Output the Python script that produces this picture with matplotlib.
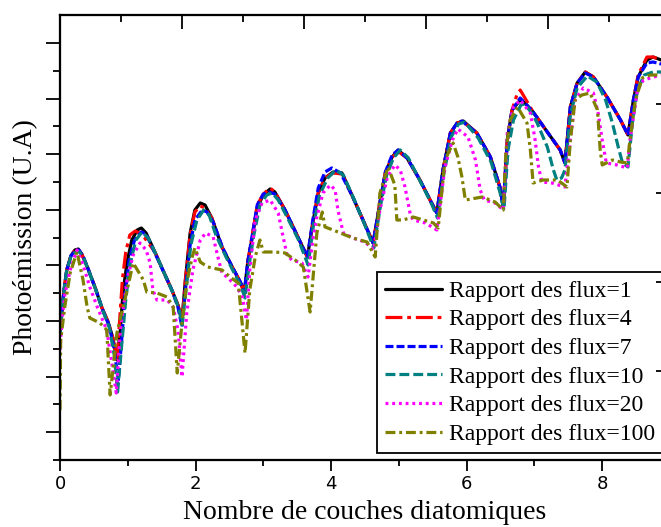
import matplotlib
matplotlib.use("Agg")
import matplotlib.pyplot as plt
from matplotlib.ticker import MultipleLocator

# ---------------- data (x: number of diatomic layers, y: photoemission, arbitrary units)
x_f1 = [0.00,0.03,0.06,0.10,0.16,0.22,0.27,0.32,0.41,0.52,0.62,0.71,0.78,0.84,
        0.89,0.93,0.99,1.06,1.14,1.20,1.27,1.40,1.55,1.65,1.74,1.80,
        1.85,1.92,1.99,2.07,2.14,2.24,2.39,2.54,2.66,2.72,
        2.77,2.83,2.91,3.00,3.10,3.17,3.32,3.51,3.65,
        3.73,3.81,3.91,4.03,4.16,4.32,4.47,4.62,
        4.72,4.80,4.90,4.99,5.12,5.31,5.46,5.56,
        5.65,5.76,5.86,5.95,6.15,6.35,6.49,6.54,
        6.60,6.67,6.79,6.86,6.98,7.19,7.38,7.45,
        7.53,7.63,7.75,7.87,8.07,8.27,8.38,
        8.46,8.53,8.66,8.75,8.87]
y_f1 = [125,150,170,190,204,210,211,206,192,172,152,138,122,100,
        130,168,198,220,230,232,227,208,185,170,155,140,
        180,227,250,257,255,242,213,193,178,168,
        198,220,253,265,271,268,250,223,203,
        237,267,282,288,287,263,240,217,
        257,287,303,310,302,280,260,247,
        290,327,337,339,327,303,273,253,
        320,350,360,357,348,328,310,297,
        353,377,388,383,363,340,325,
        360,383,400,403,400]

x_f4 = [0.00,0.03,0.06,0.10,0.16,0.22,0.27,0.32,0.41,0.52,0.62,0.71,0.78,0.84,
        0.88,0.92,0.97,1.03,1.11,1.17,1.25,1.40,1.55,1.65,1.74,1.80,
        1.85,1.92,1.99,2.07,2.14,2.24,2.39,2.54,2.66,2.72,
        2.77,2.83,2.91,3.00,3.10,3.17,3.32,3.51,3.65,
        3.73,3.81,3.91,4.03,4.16,4.32,4.47,4.62,
        4.72,4.80,4.90,5.00,5.12,5.31,5.46,5.56,
        5.65,5.76,5.86,5.95,6.15,6.35,6.49,6.54,
        6.60,6.67,6.74,6.79,6.86,6.98,7.19,7.38,7.45,
        7.53,7.63,7.75,7.87,8.07,8.27,8.38,
        8.46,8.53,8.66,8.75,8.87]
y_f4 = [125,150,170,190,204,210,210,206,192,172,152,138,122,98,
        140,180,208,225,229,227,222,208,185,170,155,138,
        180,225,248,254,252,242,213,193,178,166,
        198,222,255,266,272,268,250,223,203,
        237,267,282,287,286,263,240,217,
        257,287,303,308,302,280,260,247,
        290,327,337,338,327,303,273,253,
        320,350,365,370,362,348,328,310,297,
        353,377,388,383,363,340,325,
        360,385,403,403,400]

x_f7 = [0.00,0.03,0.06,0.10,0.16,0.22,0.28,0.34,0.42,0.53,0.63,0.72,0.79,0.86,
        0.91,0.96,1.02,1.10,1.20,1.27,1.40,1.55,1.65,1.74,1.80,
        1.85,1.92,1.99,2.10,2.17,2.26,2.40,2.55,2.66,2.72,
        2.77,2.83,2.91,3.00,3.08,3.17,3.32,3.51,3.65,
        3.73,3.81,3.91,4.01,4.14,4.32,4.47,4.62,
        4.72,4.80,4.90,4.99,5.12,5.31,5.46,5.56,
        5.65,5.76,5.86,5.93,6.15,6.35,6.49,6.54,
        6.60,6.67,6.79,6.86,6.98,7.19,7.38,7.45,
        7.53,7.63,7.75,7.87,8.07,8.27,8.38,
        8.46,8.53,8.66,8.75,8.87]
y_f7 = [125,150,170,190,204,209,210,204,190,170,150,135,115,80,
        120,165,200,220,228,226,207,185,170,153,133,
        170,215,240,250,248,238,212,192,178,168,
        198,222,255,266,268,266,250,223,203,
        240,272,288,292,287,263,240,217,
        257,288,305,310,302,280,260,247,
        290,327,337,339,327,303,273,253,
        320,350,362,357,348,328,310,297,
        353,377,387,383,363,340,325,
        360,383,397,398,396]

x_f10 = [0.00,0.03,0.06,0.10,0.16,0.23,0.29,0.35,0.43,0.54,0.64,0.73,0.80,0.85,
         0.91,0.97,1.03,1.12,1.21,1.30,1.42,1.57,1.68,1.76,1.80,
         1.86,1.93,2.02,2.12,2.20,2.30,2.45,2.57,2.67,2.73,
         2.79,2.86,2.95,3.05,3.13,3.22,3.35,3.52,3.66,
         3.74,3.83,3.95,4.07,4.18,4.33,4.48,4.63,
         4.73,4.82,4.92,5.02,5.14,5.32,5.47,5.57,
         5.66,5.77,5.88,5.97,6.17,6.36,6.49,6.55,
         6.61,6.69,6.80,6.86,6.98,7.04,7.19,7.28,7.33,7.40,7.45,
         7.53,7.63,7.78,7.92,8.05,8.15,8.24,8.30,8.38,
         8.45,8.52,8.62,8.75,8.87]
y_f10 = [125,150,170,190,203,208,208,202,188,168,148,132,105,68,
         115,160,195,220,228,222,205,182,165,150,135,
         170,215,240,250,245,225,203,187,174,162,
         195,225,255,265,267,260,243,220,195,
         235,265,282,290,285,262,238,212,
         255,285,302,310,302,278,258,242,
         285,323,336,338,322,298,268,250,
         310,340,355,356,345,337,313,290,280,282,290,
         345,372,384,378,360,337,312,297,293,
         340,370,385,388,388]

x_f20 = [0.00,0.03,0.07,0.15,0.25,0.34,0.44,0.55,0.69,0.78,0.83,
         0.89,0.99,1.08,1.18,1.27,1.33,1.37,1.43,1.58,1.67,1.74,1.80,
         1.87,1.96,2.07,2.15,2.26,2.33,2.39,2.48,2.61,2.69,2.75,
         2.80,2.88,2.98,3.10,3.22,3.28,3.35,3.42,3.57,3.66,
         3.73,3.79,3.88,3.99,4.06,4.10,4.18,4.32,4.50,4.63,
         4.72,4.83,4.94,5.02,5.09,5.17,5.21,5.39,5.56,
         5.68,5.79,5.87,6.02,6.13,6.20,6.26,6.42,6.54,
         6.60,6.69,6.79,6.94,7.01,7.06,7.11,7.26,7.45,
         7.53,7.60,7.72,7.87,7.94,8.00,8.06,8.22,8.37,
         8.41,8.52,8.61,8.86]
y_f20 = [110,140,165,190,210,195,173,153,130,90,67,
         130,180,205,217,210,197,170,160,160,153,130,83,
         147,190,220,227,223,203,187,182,173,163,140,
         190,240,257,260,247,227,205,200,197,183,
         220,243,267,275,270,250,227,222,218,210,
         250,283,295,290,273,245,240,237,230,
         293,320,331,323,300,270,260,257,250,
         327,353,360,347,320,293,278,277,273,
         320,360,372,367,347,320,297,295,292,
         320,370,380,385]

x_f100 = [0.00,0.01,0.07,0.15,0.25,0.34,0.40,0.44,0.59,0.69,0.74,
          0.84,0.99,1.08,1.23,1.28,1.43,1.58,1.67,1.73,
          1.80,1.87,1.95,1.99,2.07,2.18,2.39,2.51,2.63,2.73,
          2.80,2.88,2.95,3.00,3.17,3.32,3.47,3.59,3.69,
          3.79,3.87,3.91,4.03,4.10,4.32,4.53,4.65,
          4.72,4.84,4.94,4.97,5.06,5.21,5.36,5.51,5.58,
          5.68,5.80,5.87,5.93,5.98,6.23,6.42,6.54,
          6.58,6.64,6.75,6.89,6.94,6.98,7.13,7.34,7.44,
          7.48,7.53,7.60,7.70,7.82,7.93,7.97,8.00,8.15,8.27,8.37,
          8.41,8.49,8.59,8.71,8.86]
y_f100 = [50,120,153,187,208,180,153,142,137,130,65,
          127,170,197,180,168,167,163,153,87,
          137,177,203,212,198,193,190,183,177,107,
          170,203,220,208,208,207,200,193,148,
          227,248,233,230,228,222,218,203,
          267,293,275,240,240,243,240,237,232,
          300,317,303,283,260,263,258,250,
          310,340,353,337,310,277,280,280,275,
          273,320,360,365,367,350,310,295,300,298,297,
          320,360,382,385,385]

labels = ["Rapport des flux=1", "Rapport des flux=4", "Rapport des flux=7",
          "Rapport des flux=10", "Rapport des flux=20", "Rapport des flux=100"]

series = [(x_f1, y_f1), (x_f4, y_f4), (x_f7, y_f7),
          (x_f10, y_f10), (x_f20, y_f20), (x_f100, y_f100)]
colors = ["#000000", "#ff0000", "#0000ff", "#008080", "#ff00ff", "#808000"]
styles = ["-", (0, (5.3, 1.5, 1.2, 1.5)), (0, (2.5, 0.95)), (0, (3.1, 1.25)),
          (0, (0.9, 1.2)), (0, (3.1, 1.2, 0.9, 1.2))]

# ---------------- figure
fig = plt.figure(figsize=(6.61, 5.27), dpi=100)
W, H = 661, 527
ax = fig.add_axes([60 / W, 1 - 460 / H, 610 / W, 445 / H])

for (xs, ys), c, ls, lab in zip(series, colors, styles, labels):
    ax.plot(xs, ys, color=c, linestyle=ls, lw=2.3, label=lab,
            dash_capstyle="butt", solid_capstyle="round",
            solid_joinstyle="round", dash_joinstyle="round")

ax.set_xlim(0, 9.0)
ax.set_ylim(0, 445)

ax.xaxis.set_major_locator(MultipleLocator(2))
ax.xaxis.set_minor_locator(MultipleLocator(1))
ax.set_yticks([27.8 + 55.6 * k for k in range(8)])
ax.set_yticks([55.6 * k for k in range(8)], minor=True)
ax.set_yticklabels([])

ax.tick_params(axis="x", which="major", direction="out", length=8, width=1.3,
               labelsize=13, pad=3)
ax.tick_params(axis="x", which="minor", direction="out", length=4, width=1.3)
ax.tick_params(axis="y", which="major", direction="out", length=10, width=1.3)
ax.tick_params(axis="y", which="minor", direction="out", length=5, width=1.3)
for lab in ax.get_xticklabels():
    lab.set_fontfamily("DejaVu Sans")

for s in ax.spines.values():
    s.set_linewidth(1.5)

# top axis ticks (inward)
axt = ax.twiny()
axt.set_xlim(0, 10)
axt.xaxis.set_major_locator(MultipleLocator(2))
axt.xaxis.set_minor_locator(MultipleLocator(1))
axt.tick_params(axis="x", which="major", direction="in", length=10, width=1.3,
                labeltop=False)
axt.tick_params(axis="x", which="minor", direction="in", length=5, width=1.3)
axt.set_xticklabels([])

# right axis ticks (inward)
axr = ax.twinx()
axr.set_ylim(0, 5)
axr.yaxis.set_major_locator(MultipleLocator(1))
axr.tick_params(axis="y", which="major", direction="in", length=10, width=1.3,
                labelright=False)
axr.set_yticklabels([])
for a in (axt, axr):
    for s in a.spines.values():
        s.set_linewidth(1.5)

serif = "Liberation Serif"
ax.set_xlabel("Nombre de couches diatomiques", fontsize=20, family=serif,
              labelpad=5)
ax.set_ylabel("Photoémission (U.A)", fontsize=20, family=serif, labelpad=2)

leg = ax.legend(loc="upper left", bbox_to_anchor=(377 / W, 1 - 272 / H),
                bbox_transform=fig.transFigure, borderaxespad=0,
                prop={"family": serif, "size": 17}, frameon=True,
                fancybox=False, framealpha=1, edgecolor="black",
                handlelength=2.4, handletextpad=0.3, labelspacing=0.3,
                borderpad=0.35)
leg.get_frame().set_linewidth(1.3)
leg.set_zorder(10)

fig.savefig("out.png", dpi=100)
